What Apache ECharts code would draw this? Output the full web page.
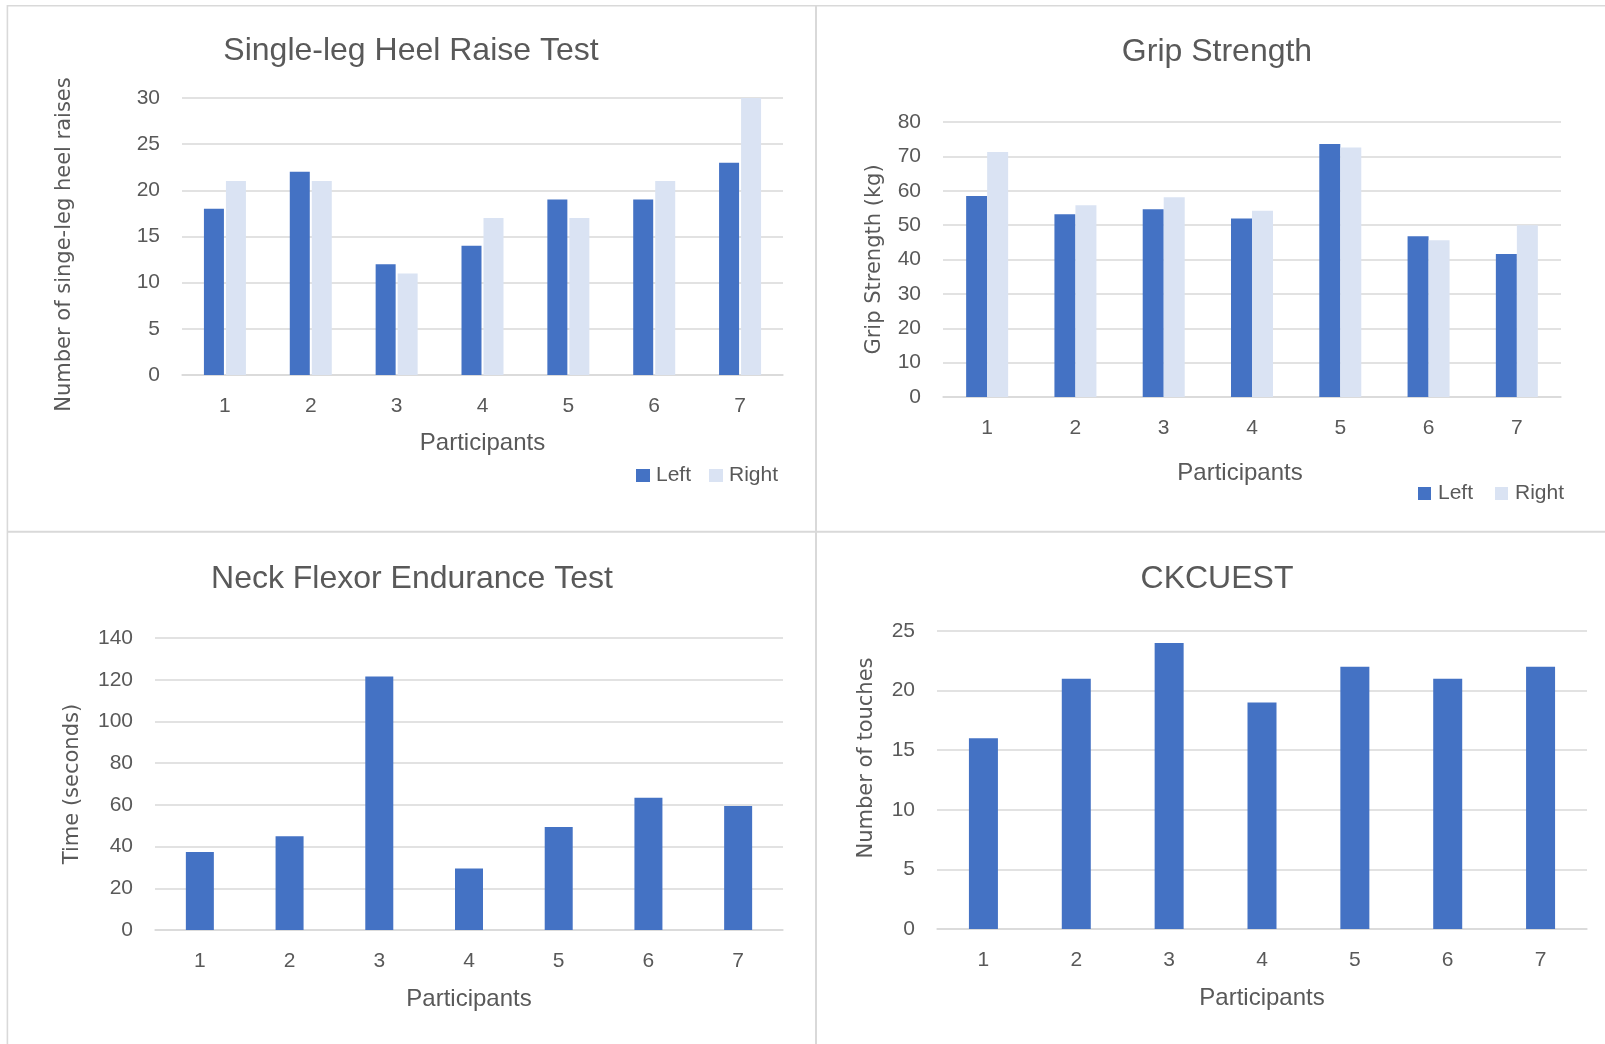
<!DOCTYPE html>
<html>
<head>
<meta charset="utf-8">
<script src="https://cdn.jsdelivr.net/npm/echarts@6/dist/echarts.min.js"></script>
<style>
  html, body { margin: 0; padding: 0; background: #ffffff; }
  #chart { width: 1605px; height: 1044px; }
</style>
</head>
<body>
<div id="chart"></div>
<script>
// ---- Data ----
const categories = ['1', '2', '3', '4', '5', '6', '7'];

const heelLeft  = [18, 22, 12, 14, 19, 19, 23];
const heelRight = [21, 21, 11, 17, 17, 21, 30];
const heelTicks = [0, 5, 10, 15, 20, 25, 30];

const gripLeft  = [58.5, 53.2, 54.6, 51.9, 73.6, 46.8, 41.6];
const gripRight = [71.3, 55.8, 58.1, 54.2, 72.6, 45.6, 50.0];
const gripTicks = [0, 10, 20, 30, 40, 50, 60, 70, 80];

const neckTime  = [37.4, 45.0, 121.5, 29.5, 49.4, 63.4, 59.4];
const neckTicks = [0, 20, 40, 60, 80, 100, 120, 140];

const ckTouches = [16, 21, 24, 19, 22, 21, 22];
const ckTicks   = [0, 5, 10, 15, 20, 25];

const titles = ['Single-leg Heel Raise Test', 'Grip Strength', 'Neck Flexor Endurance Test', 'CKCUEST'];
const yNames = ['Number of singe-leg heel raises', 'Grip Strength (kg)', 'Time (seconds)', 'Number of touches'];
const xName = 'Participants';
const seriesNames = ['Left', 'Right'];

// ---- Styles ----
const TXT = '#595959';
const GRID = '#D9D9D9';
const C_LEFT = '#4472C4';
const C_RIGHT = '#DAE3F3';
const FONT = 'Liberation Sans';
const FONT_Y = 'DejaVu Sans';

const grids = [
  { left: 182, top: 98,  width: 601, height: 277 },
  { left: 943, top: 122, width: 618, height: 275 },
  { left: 155, top: 638, width: 628, height: 292 },
  { left: 937, top: 631, width: 650, height: 298 }
];
const tickSets = [heelTicks, gripTicks, neckTicks, ckTicks];
const yNameGap = [107, 58, 72, 60];
const yNamePad = [[0, 16, 0, 0], [0, 0, 0, 0], [0, 0, 0, 0], [0, 0, 0, 44]];
const xNameGap = [56, 64, 57, 57];
const xNamePad = [[0, 0, 0, 0], [0, 24, 0, 0], [0, 0, 0, 0], [0, 0, 0, 0]];

function xAxisFor(i) {
  return {
    type: 'category', gridIndex: i, data: categories,
    axisLine: { show: true, lineStyle: { color: GRID, width: 1.5 } },
    axisTick: { show: false },
    axisLabel: { color: TXT, fontSize: 21, fontFamily: FONT, margin: 21 },
    name: xName, nameLocation: 'middle', nameGap: xNameGap[i],
    nameTextStyle: { color: TXT, fontSize: 24, fontFamily: FONT, padding: xNamePad[i] }
  };
}
function yAxisFor(i) {
  const t = tickSets[i];
  return {
    type: 'value', gridIndex: i,
    min: t[0], max: t[t.length - 1], interval: t[1] - t[0],
    axisLine: { show: false }, axisTick: { show: false },
    splitLine: { show: true, lineStyle: { color: GRID, width: 1.5 } },
    axisLabel: { color: TXT, fontSize: 21, fontFamily: FONT, margin: 22 },
    name: yNames[i], nameLocation: 'middle', nameRotate: 90, nameGap: yNameGap[i],
    nameTextStyle: { color: TXT, fontSize: 21, fontFamily: FONT_Y, padding: yNamePad[i] }
  };
}

const titleTops = [30, 31, 558, 558];
const titleCenters = [406, 1212, 407, 1212];

const option = {
  animation: false,
  backgroundColor: '#ffffff',
  title: titles.map((t, i) => ({
    text: t, left: titleCenters[i], top: titleTops[i], textAlign: 'center',
    textStyle: { color: TXT, fontSize: 32, fontWeight: 'normal', fontFamily: FONT }
  })),
  legend: [
    { data: seriesNames, left: 631, top: 460, itemWidth: 14, itemHeight: 13, itemGap: 18, icon: 'rect',
      textStyle: { color: TXT, fontSize: 21, fontFamily: FONT, padding: [0, 0, 0, 1] } },
    { data: seriesNames, left: 1413, top: 478, itemWidth: 13, itemHeight: 13, itemGap: 22, icon: 'rect',
      textStyle: { color: TXT, fontSize: 21, fontFamily: FONT, padding: [0, 0, 0, 2] } }
  ],
  grid: grids,
  xAxis: [0, 1, 2, 3].map(xAxisFor),
  yAxis: [0, 1, 2, 3].map(yAxisFor),
  series: [
    { name: 'Left',  type: 'bar', xAxisIndex: 0, yAxisIndex: 0, data: heelLeft,  barWidth: 20, barGap: '10%', itemStyle: { color: C_LEFT } },
    { name: 'Right', type: 'bar', xAxisIndex: 0, yAxisIndex: 0, data: heelRight, barWidth: 20, barGap: '10%', itemStyle: { color: C_RIGHT } },
    { name: 'Left',  type: 'bar', xAxisIndex: 1, yAxisIndex: 1, data: gripLeft,  barWidth: 21, barGap: '0%', itemStyle: { color: C_LEFT } },
    { name: 'Right', type: 'bar', xAxisIndex: 1, yAxisIndex: 1, data: gripRight, barWidth: 21, barGap: '0%', itemStyle: { color: C_RIGHT } },
    { name: 'Time',    type: 'bar', xAxisIndex: 2, yAxisIndex: 2, data: neckTime,  barWidth: 28, itemStyle: { color: C_LEFT } },
    { name: 'Touches', type: 'bar', xAxisIndex: 3, yAxisIndex: 3, data: ckTouches, barWidth: 29, itemStyle: { color: C_LEFT } }
  ],
  graphic: [
    { type: 'line', shape: { x1: 7, y1: 5.7, x2: 1605, y2: 5.7 }, style: { stroke: GRID, lineWidth: 1.6 }, silent: true },
    { type: 'line', shape: { x1: 7.4, y1: 5, x2: 7.4, y2: 1044 }, style: { stroke: GRID, lineWidth: 1.6 }, silent: true },
    { type: 'line', shape: { x1: 816, y1: 5, x2: 816, y2: 1044 }, style: { stroke: GRID, lineWidth: 2 }, silent: true },
    { type: 'line', shape: { x1: 7, y1: 531.8, x2: 1605, y2: 531.8 }, style: { stroke: GRID, lineWidth: 2 }, silent: true }
  ]
};

const chart = echarts.init(document.getElementById('chart'), null, { renderer: 'canvas' });
chart.setOption(option);
</script>
</body>
</html>
